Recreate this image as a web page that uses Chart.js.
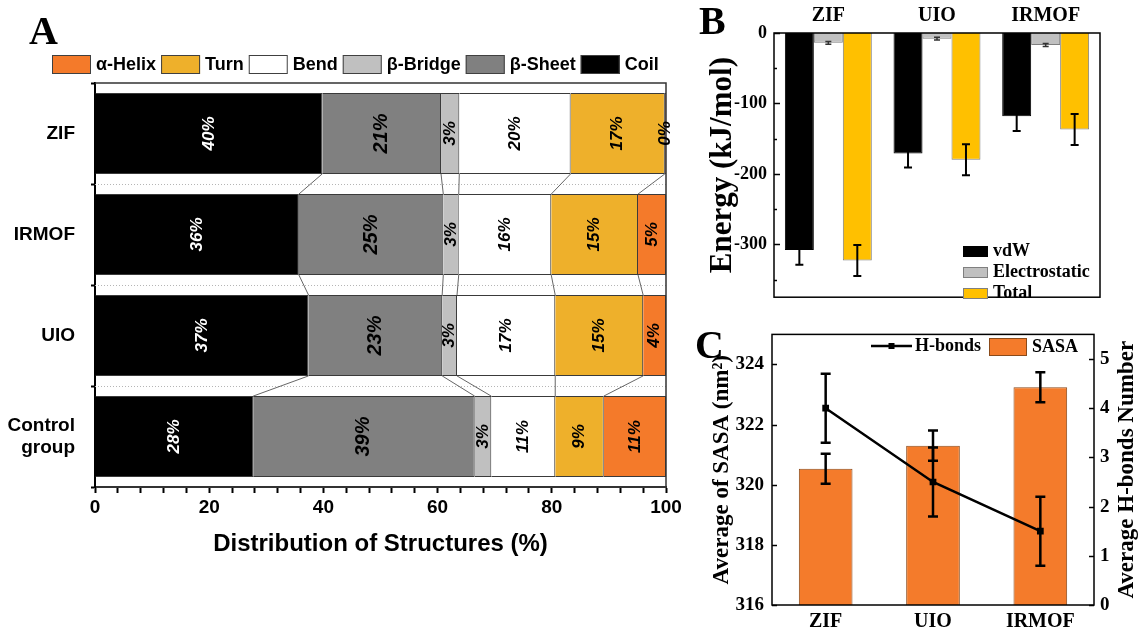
<!DOCTYPE html>
<html><head><meta charset="utf-8">
<script src="https://cdn.jsdelivr.net/npm/chart.js@4.4.0/dist/chart.umd.min.js"></script>
<style>
html,body{margin:0;padding:0;background:#fff;width:1138px;height:631px;overflow:hidden;}
.wrap{position:absolute;}
.lbl{position:absolute;font-family:'Liberation Serif','Times New Roman',serif;font-weight:bold;font-size:40px;line-height:1;color:#000;}
</style></head><body>
<div class="wrap" style="left:0;top:0;width:690px;height:631px"><canvas id="cA"></canvas></div>
<div class="wrap" style="left:690px;top:0;width:448px;height:315px"><canvas id="cB"></canvas></div>
<div class="wrap" style="left:690px;top:315px;width:448px;height:316px"><canvas id="cC"></canvas></div>
<div class="lbl" style="left:29px;top:11px">A</div>
<div class="lbl" style="left:699px;top:1px">B</div>
<div class="lbl" style="left:695px;top:325px">C</div>
<script>
// ---------- Panel A data ----------
const categoriesA = ['ZIF', 'IRMOF', 'UIO', ['Control', 'group']];
const structureNames = ['Coil', 'β-Sheet', 'β-Bridge', 'Bend', 'Turn', 'α-Helix'];
const coil       = [39.8, 35.7, 37.4, 27.7];
const betaSheet  = [20.8, 25.3, 23.4, 38.8];
const betaBridge = [3.2, 2.7, 2.6, 2.9];
const bend       = [19.5, 16.2, 17.2, 11.2];
const turn       = [16.5, 15.2, 15.4, 8.5];
const alphaHelix = [0.2, 4.9, 4.0, 10.9];
const xTicksA = [0, 20, 40, 60, 80, 100];

// ---------- Panel B data ----------
const categoriesB = ['ZIF', 'UIO', 'IRMOF'];
const vdW = [-308, -171, -118];
const vdWErr = [21, 20, 21];
const electrostatic = [-14, -8, -17];
const electrostaticErr = [2, 2, 2];
const totalEnergy = [-323, -180, -137];
const totalErr = [22, 22, 22];

// ---------- Panel C data ----------
const categoriesC = ['ZIF', 'UIO', 'IRMOF'];
const sasa = [320.53, 321.3, 323.24];
const sasaErr = [0.5, 0.5, 0.5];
const hbonds = [4.0, 2.5, 1.5];
const hbondsErr = [0.7, 0.7, 0.7];

const SANS = "'Liberation Sans', Arial, sans-serif";
const SERIF = "'Liberation Serif', 'Times New Roman', serif";

// ---------- generic plugins ----------
const errorBarPlugin = {
  id: 'errorBars',
  afterDatasetsDraw(chart) {
    const ctx = chart.ctx;
    chart.data.datasets.forEach((ds, i) => {
      if (!ds.errorBars) return;
      const meta = chart.getDatasetMeta(i);
      const sc = chart.scales[meta.yAxisID];
      ctx.save();
      ctx.strokeStyle = ds.errorColor || '#000';
      ctx.lineWidth = ds.errorWidth || 2;
      meta.data.forEach((el, j) => {
        const v = ds.data[j], e = ds.errorBars[j];
        const y1 = sc.getPixelForValue(v + e), y2 = sc.getPixelForValue(v - e);
        const x = el.x, cw = ds.capHalf || 4;
        ctx.beginPath();
        ctx.moveTo(x, y1); ctx.lineTo(x, y2);
        ctx.moveTo(x - cw, y1); ctx.lineTo(x + cw, y1);
        ctx.moveTo(x - cw, y2); ctx.lineTo(x + cw, y2);
        ctx.stroke();
      });
      ctx.restore();
    });
  }
};

function inTicks(chart, scaleId, from, to, step, len, side) {
  const s = chart.scales[scaleId], ca = chart.chartArea, ctx = chart.ctx;
  ctx.save(); ctx.strokeStyle = '#000'; ctx.lineWidth = 1.5;
  for (let v = from; v <= to + 1e-9; v += step) {
    const y = Math.round(s.getPixelForValue(v)) + 0.5;
    ctx.beginPath();
    if (side === 'left') { ctx.moveTo(ca.left, y); ctx.lineTo(ca.left + len, y); }
    else { ctx.moveTo(ca.right, y); ctx.lineTo(ca.right - len, y); }
    ctx.stroke();
  }
  ctx.restore();
}

// ---------- Panel A ----------
const seriesA = [coil, betaSheet, betaBridge, bend, turn, alphaHelix];
const colorsA = ['#000000', '#808080', '#c0c0c0', '#ffffff', '#eeb02b', '#f47a2a'];

const panelAPlugin = {
  id: 'panelA',
  beforeDatasetsDraw(chart) {
    const ctx = chart.ctx, ca = chart.chartArea, ys = chart.scales.y;
    ctx.save();
    ctx.strokeStyle = '#b5b5b5'; ctx.lineWidth = 1; ctx.setLineDash([1, 2]);
    for (let i = 0; i < categoriesA.length - 1; i++) {
      const y = Math.round((ys.getPixelForValue(i) + ys.getPixelForValue(i + 1)) / 2) + 0.5;
      ctx.beginPath(); ctx.moveTo(ca.left, y); ctx.lineTo(ca.right, y); ctx.stroke();
    }
    ctx.setLineDash([]);
    ctx.strokeStyle = '#555'; ctx.lineWidth = 0.9;
    for (let k = 0; k < seriesA.length - 1; k++) {
      const meta = chart.getDatasetMeta(k);
      for (let j = 0; j < categoriesA.length - 1; j++) {
        const a = meta.data[j], b = meta.data[j + 1];
        ctx.beginPath();
        ctx.moveTo(a.x, a.y + a.height / 2);
        ctx.lineTo(b.x, b.y - b.height / 2);
        ctx.stroke();
      }
    }
    ctx.restore();
  },
  afterDatasetsDraw(chart) {
    const ctx = chart.ctx, ca = chart.chartArea;
    ctx.save();
    ctx.strokeStyle = '#333'; ctx.lineWidth = 1.5;
    ctx.beginPath(); ctx.moveTo(ca.left, ca.top); ctx.lineTo(ca.right, ca.top); ctx.lineTo(ca.right, ca.bottom); ctx.stroke();
    ctx.textAlign = 'center'; ctx.textBaseline = 'middle';
    chart.data.datasets.forEach((ds, k) => {
      const meta = chart.getDatasetMeta(k);
      meta.data.forEach((el, j) => {
        const cx = (el.x + el.base) / 2, cy = el.y;
        ctx.save();
        ctx.font = "italic bold " + (k === 1 ? 20 : 17) + "px " + SANS;
        ctx.translate(cx, cy); ctx.rotate(-Math.PI / 2);
        ctx.fillStyle = k === 0 ? '#fff' : '#000';
        ctx.fillText(Math.round(ds.data[j]) + '%', 0, 0);
        ctx.restore();
      });
    });
    ctx.font = "bold 18px " + SANS;
    ctx.textAlign = 'left'; ctx.textBaseline = 'middle';
    let x = 52; const yc = 64.5;
    for (let k = seriesA.length - 1; k >= 0; k--) {
      ctx.fillStyle = colorsA[k];
      ctx.fillRect(x, yc - 9.5, 39, 19);
      ctx.strokeStyle = '#404040'; ctx.lineWidth = 1;
      ctx.strokeRect(x + 0.5, yc - 9.5 + 0.5, 38, 18);
      x += 39 + 5;
      ctx.fillStyle = '#000';
      ctx.fillText(structureNames[k], x, yc + 1);
      x += ctx.measureText(structureNames[k]).width + 5;
    }
    ctx.restore();
  }
};

new Chart(document.getElementById('cA'), {
  type: 'bar',
  data: {
    labels: categoriesA,
    datasets: structureNames.map((n, k) => ({
      label: n, data: seriesA[k], backgroundColor: colorsA[k],
      borderColor: '#3a3a3a', borderWidth: 1, barPercentage: 0.8, categoryPercentage: 1
    }))
  },
  options: {
    indexAxis: 'y', responsive: true, maintainAspectRatio: false, animation: false,
    layout: { padding: { left: 0, right: 24, top: 83, bottom: 69 } },
    plugins: { legend: { display: false }, tooltip: { enabled: false } },
    scales: {
      x: {
        stacked: true, min: 0, max: 100, position: 'bottom',
        ticks: { stepSize: 4, autoSkip: false, maxRotation: 0, padding: 3, color: '#000',
          font: { family: SANS, size: 19, weight: 'bold' },
          callback: v => xTicksA.includes(v) ? String(v) : '' },
        grid: { drawOnChartArea: false, drawTicks: true, tickLength: 6, tickColor: '#000', tickWidth: 2 },
        border: { display: true, color: '#333', width: 2 },
        title: { display: true, text: 'Distribution of Structures (%)', color: '#000',
          font: { family: SANS, size: 24, weight: 'bold' }, padding: { top: 0, bottom: 3 } },
        afterFit: s => { s.height = 75; }
      },
      y: {
        stacked: true, offset: true,
        ticks: { color: '#000', padding: 16, font: { family: SANS, size: 19, weight: 'bold', lineHeight: 1.15 } },
        grid: { offset: true, drawOnChartArea: false, drawTicks: true, tickLength: 4, tickColor: '#000', tickWidth: 2 },
        border: { display: true, color: '#000', width: 2 },
        afterFit: s => { s.width = 95; }
      }
    }
  },
  plugins: [panelAPlugin]
});

// ---------- Panel B ----------
const panelBPlugin = {
  id: 'panelB',
  afterDatasetsDraw(chart) {
    const ctx = chart.ctx, ca = chart.chartArea;
    ctx.save();
    ctx.strokeStyle = '#000'; ctx.lineWidth = 1.5;
    ctx.strokeRect(ca.left, ca.top, ca.right - ca.left, ca.bottom - ca.top);
    ctx.restore();
    inTicks(chart, 'y', -350, 0, 100, 3, 'left');
    inTicks(chart, 'y', -300, 0, 100, 6, 'left');
    const items = [['vdW', '#000000', '#000'], ['Electrostatic', '#c0c0c0', '#7f7f7f'], ['Total', '#ffc000', '#7f7f7f']];
    ctx.save();
    ctx.font = "bold 18px " + SERIF; ctx.textBaseline = 'middle'; ctx.textAlign = 'left';
    items.forEach((it, i) => {
      const y = 246 + i * 21;
      ctx.fillStyle = it[1]; ctx.fillRect(273, y, 25, 11);
      ctx.strokeStyle = it[2]; ctx.lineWidth = 1; ctx.strokeRect(273.5, y + 0.5, 24, 10);
      ctx.fillStyle = '#000'; ctx.fillText(it[0], 303, y + 5.5);
    });
    ctx.restore();
  }
};

new Chart(document.getElementById('cB'), {
  type: 'bar',
  data: {
    labels: categoriesB,
    datasets: [
      { label: 'vdW', data: vdW, errorBars: vdWErr, backgroundColor: '#000', borderColor: '#000', borderWidth: 1, capHalf: 4 },
      { label: 'Electrostatic', data: electrostatic, errorBars: electrostaticErr, backgroundColor: '#c0c0c0', borderColor: '#7f7f7f', borderWidth: 1, capHalf: 3, errorWidth: 1.5, errorColor: '#333' },
      { label: 'Total', data: totalEnergy, errorBars: totalErr, backgroundColor: '#ffc000', borderColor: '#7f7f7f', borderWidth: 1, capHalf: 4 }
    ]
  },
  options: {
    responsive: true, maintainAspectRatio: false, animation: false,
    datasets: { bar: { barPercentage: 1, categoryPercentage: 0.8 } },
    layout: { padding: { left: 0, right: 38, top: 0, bottom: 8 } },
    plugins: { legend: { display: false }, tooltip: { enabled: false } },
    scales: {
      x: {
        position: 'top',
        ticks: { color: '#000', padding: 5, font: { family: SERIF, size: 20, weight: 'bold' } },
        grid: { display: false, drawTicks: false },
        border: { display: false },
        afterFit: s => { s.height = 33; }
      },
      y: {
        min: -375, max: 0,
        ticks: { stepSize: 100, includeBounds: false, color: '#000', padding: 7, font: { family: SERIF, size: 18, weight: 'bold' } },
        grid: { display: false, drawTicks: false },
        border: { display: false },
        title: { display: true, text: 'Energy (kJ/mol)', color: '#000', font: { family: SERIF, size: 31, weight: 'bold' }, padding: { top: 14, bottom: 0 } },
        afterFit: s => { s.width = 84; }
      }
    }
  },
  plugins: [errorBarPlugin, panelBPlugin]
});

// ---------- Panel C ----------
const panelCPlugin = {
  id: 'panelC',
  afterDatasetsDraw(chart) {
    const ctx = chart.ctx, ca = chart.chartArea;
    ctx.save();
    ctx.strokeStyle = '#000'; ctx.lineWidth = 1.5;
    ctx.strokeRect(ca.left, ca.top, ca.right - ca.left, ca.bottom - ca.top);
    ctx.restore();
    inTicks(chart, 'y', 316, 324, 2, 5, 'left');
    inTicks(chart, 'y1', 0, 5, 1, 5, 'right');
    ctx.save();
    ctx.font = "bold 23px " + SERIF; ctx.fillStyle = '#000';
    ctx.textAlign = 'center'; ctx.textBaseline = 'middle';
    ctx.translate(437.5, (ca.top + ca.bottom) / 2); ctx.rotate(-Math.PI / 2);
    ctx.fillText('Average H-bonds Number', 0, 0);
    ctx.restore();
    ctx.save();
    ctx.strokeStyle = '#000'; ctx.lineWidth = 2.5;
    ctx.beginPath(); ctx.moveTo(181, 31); ctx.lineTo(222, 31); ctx.stroke();
    ctx.fillStyle = '#000'; ctx.fillRect(198.5, 28, 6, 6);
    ctx.font = "bold 18px " + SERIF; ctx.textAlign = 'left'; ctx.textBaseline = 'middle';
    ctx.fillText('H-bonds', 225, 31);
    ctx.fillStyle = '#f47b2b'; ctx.fillRect(299, 23, 38, 18);
    ctx.strokeStyle = '#8a4a1a'; ctx.lineWidth = 1; ctx.strokeRect(299.5, 23.5, 37, 17);
    ctx.fillStyle = '#000'; ctx.fillText('SASA', 342, 32);
    ctx.restore();
  }
};

new Chart(document.getElementById('cC'), {
  data: {
    labels: categoriesC,
    datasets: [
      { type: 'line', label: 'H-bonds', data: hbonds, errorBars: hbondsErr, yAxisID: 'y1', order: 0,
        borderColor: '#000', borderWidth: 2.5, pointStyle: 'rect', pointRadius: 3,
        pointBackgroundColor: '#000', pointBorderColor: '#000', tension: 0, capHalf: 5, errorWidth: 2.5 },
      { type: 'bar', label: 'SASA', data: sasa, errorBars: sasaErr, yAxisID: 'y', order: 1,
        backgroundColor: '#f47b2b', borderColor: '#8a4a1a', borderWidth: 1,
        barPercentage: 0.5, categoryPercentage: 1, capHalf: 5, errorWidth: 2.5 }
    ]
  },
  options: {
    responsive: true, maintainAspectRatio: false, animation: false,
    layout: { padding: { left: 0, right: 0, top: 16, bottom: 0 } },
    plugins: { legend: { display: false }, tooltip: { enabled: false } },
    scales: {
      x: {
        offset: true,
        ticks: { color: '#000', padding: 5, font: { family: SERIF, size: 20, weight: 'bold' } },
        grid: { display: false, drawTicks: false },
        border: { display: false },
        afterFit: s => { s.height = 26; }
      },
      y: {
        position: 'left', min: 316, max: 325,
        ticks: { stepSize: 2, includeBounds: false, color: '#000', padding: 8, font: { family: SERIF, size: 19, weight: 'bold' } },
        grid: { display: false, drawTicks: false },
        border: { display: false },
        title: { display: true, text: 'Average of SASA (nm²)', color: '#000', font: { family: SERIF, size: 23, weight: 'bold' }, padding: { top: 18, bottom: 0 } },
        afterFit: s => { s.width = 82; }
      },
      y1: {
        position: 'right', min: 0, max: 5.5,
        ticks: { stepSize: 1, includeBounds: false, color: '#000', padding: 6, font: { family: SERIF, size: 19, weight: 'bold' } },
        grid: { display: false, drawTicks: false },
        border: { display: false },
        afterFit: s => { s.width = 44; }
      }
    }
  },
  plugins: [errorBarPlugin, panelCPlugin]
});
</script>
</body></html>
